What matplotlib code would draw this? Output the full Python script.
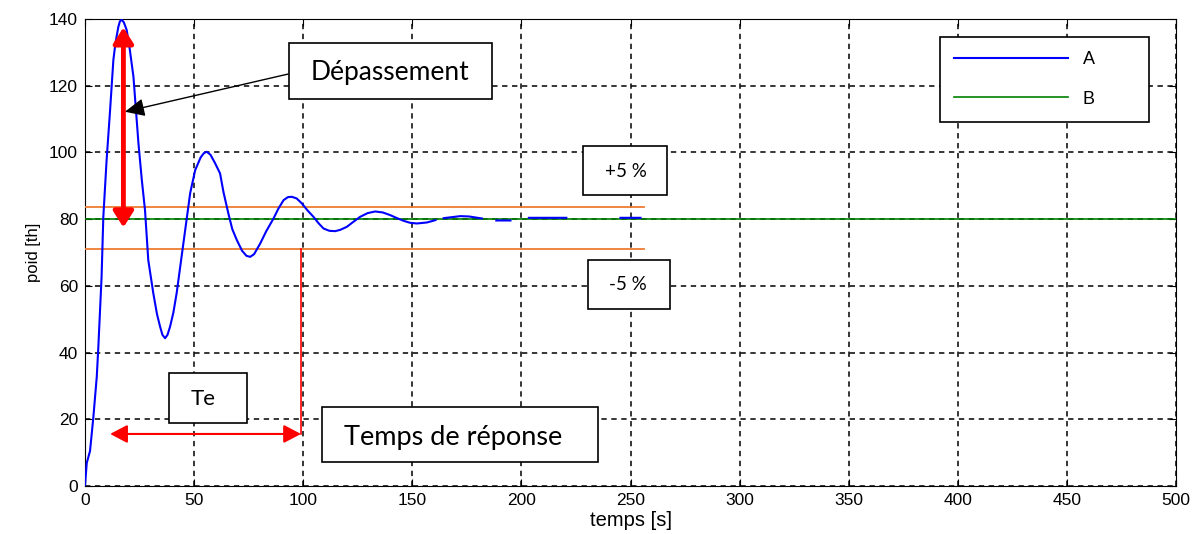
import numpy as np
import matplotlib.pyplot as plt
from matplotlib.patches import Rectangle

nan = np.nan

# courbe A
temps_a = [0, 0.8, 2.3, 3.8, 5.4, 6.1, 7.6, 8.4, 9.9, 11.5, 13, 14, 15.3, 16, 16.8,
           17.8, 19.1, 20.5, 22.2, 24.5, 26, 27.5, 29, 31.3, 33, 34.4, 35.5, 36.7,
           37.8, 39, 40.5, 42, 45.1, 48.2, 50.5, 53, 54.5, 55.8, 57.5, 59.6, 61.9,
           63.5, 65.7, 67.5, 69.6, 72, 74, 75.7, 77.5, 80.3, 83, 86.4, 88.5, 91,
           93, 94.8, 97, 99.4, 102, 104.7, 107, 109.3, 112, 114.7, 117, 120, 123,
           126.1, 129.5, 133, 136.5, 139.9, 143, 146, 149, 152.1, 156.7, 160.6,
           162, 164.4, 172, 176, 181.9, 185, 188.5, 195, 199, 203.4, 220.6,
           230, 245.4, 254.6]
poid_a = [0, 6.9, 10.5, 20.4, 32.8, 41.5, 62.7, 80.7, 97.7, 112.7, 127.7, 133,
          137.7, 139.3, 139.8, 139, 136.7, 131, 122.7, 102.7, 92, 82.7, 67.7, 57.8,
          51.5, 47.8, 45.3, 44.3, 45.3, 47.8, 52, 57.8, 72.8, 87.8, 94.7, 98.5,
          99.8, 100.2, 99.3, 96.8, 93.7, 88, 81.7, 77, 73.7, 70.5, 69, 68.7, 69.5,
          72.7, 76.3, 80.2, 83, 85.7, 86.6, 86.7, 86.2, 84.7, 82.6, 80.7, 78.8,
          77.2, 76.5, 76.4, 76.8, 77.7, 79.2, 80.7, 81.8, 82.3, 82.0, 81.2, 80.3,
          79.5, 78.9, 78.7, 79.0, 79.7, nan, 80.3, 80.9, 80.8, 80.2, nan, 79.6,
          79.6, nan, 80.4, 80.4, nan, 80.4, 80.4]

# consigne B et bande +/-5 %
temps_b = [0, 500]
poid_b = [80, 80]
bande_haut = 83.5
bande_bas = 71.0
fin_bande = 256

te = 99  # temps de reponse
x_ticks = list(range(0, 501, 50))
y_ticks = list(range(0, 141, 20))

fig = plt.figure(figsize=(12.01, 5.34), dpi=100)
ax = fig.add_axes([85 / 1201, 48 / 534, 1091 / 1201, 467 / 534])

ax.plot(temps_a, poid_a, color='#0000ff', lw=1.5, label='A', zorder=4)
ax.plot(temps_b, poid_b, color='#008000', lw=1.2, label='B', zorder=3)
ax.plot([0, fin_bande], [bande_haut, bande_haut], color='#ed7d31', lw=1.3, zorder=3)
ax.plot([0, fin_bande], [bande_bas, bande_bas], color='#ed7d31', lw=1.3, zorder=3)

ax.set_xlim(0, 500)
ax.set_ylim(0, 140)
ax.set_xticks(x_ticks)
ax.set_yticks(y_ticks)
ax.grid(True, color='black', linestyle=(0, (3.5, 3)), lw=1.1)
ax.tick_params(direction='in', length=5, top=True, right=True,
               labelsize=12.5, pad=5)
for lab in ax.get_xticklabels() + ax.get_yticklabels():
    lab.set_fontfamily('Liberation Sans')
ax.set_xlabel('temps [s]', fontsize=14.5, family='Liberation Sans', labelpad=2)
ax.set_ylabel('poid [th]', fontsize=12, family='Liberation Sans', labelpad=6)

# fleches rouges
ax.annotate('', xy=(17.6, 137.5), xytext=(17.6, 77.5),
            arrowprops=dict(arrowstyle='<|-|>,head_length=0.95,head_width=0.6',
                            mutation_scale=10, color='red', lw=3.5,
                            shrinkA=0, shrinkB=0), zorder=6)
ax.plot([te, te], [bande_bas, 15.6], color='red', lw=1.2, zorder=5)
ax.annotate('', xy=(11.5, 15.6), xytext=(te, 15.6),
            arrowprops=dict(arrowstyle='<|-|>,head_length=1.05,head_width=0.55',
                            mutation_scale=10, color='red', lw=1.5,
                            shrinkA=0, shrinkB=0), zorder=6)

# fleche noire
ax.annotate('', xy=(18.3, 112.2), xytext=(93.1, 123.5),
            arrowprops=dict(arrowstyle='-|>,head_length=1.2,head_width=0.55',
                            mutation_scale=10, color='black', lw=1.0,
                            shrinkA=0, shrinkB=0), zorder=6)

# boites de texte
boites = [
    ('Dépassement', 93.6, 116.0, 186.7, 132.8, 140.0, 124.0, 19),
    ('Temps de réponse', 108.7, 7.2, 235.3, 23.7, 168.8, 14.6, 19.5),
    ('Te', 38.5, 18.9, 74.3, 33.9, 54.0, 26.2, 16),
    ('+5 %', 228.4, 87.2, 266.5, 101.9, 247.7, 94.3, 13.5),
    ('-5 %', 230.3, 53.1, 268.3, 67.7, 248.6, 60.4, 13.5),
]
for txt, x0, y0, x1, y1, xt, yt, fs in boites:
    ax.add_patch(Rectangle((x0, y0), x1 - x0, y1 - y0, facecolor='white',
                           edgecolor='black', lw=1.2, zorder=7))
    ax.text(xt, yt, txt, ha='center', va='center', fontsize=fs,
            family='Lato', zorder=8)

leg = ax.legend(loc='upper left', bbox_to_anchor=(940 / 1201, 1 - 36.7 / 534),
                bbox_transform=fig.transFigure, borderaxespad=0,
                fancybox=False, edgecolor='black', framealpha=1,
                handlelength=6.3, handletextpad=0.8,
                labelspacing=1.25, borderpad=0.8,
                prop={'family': 'Liberation Sans', 'size': 13})
leg.get_frame().set_linewidth(1.2)
for t in leg.get_texts():
    t.set_text(t.get_text() + ' ' * 8)
leg.set_zorder(9)

plt.savefig('out.png', dpi=100)
